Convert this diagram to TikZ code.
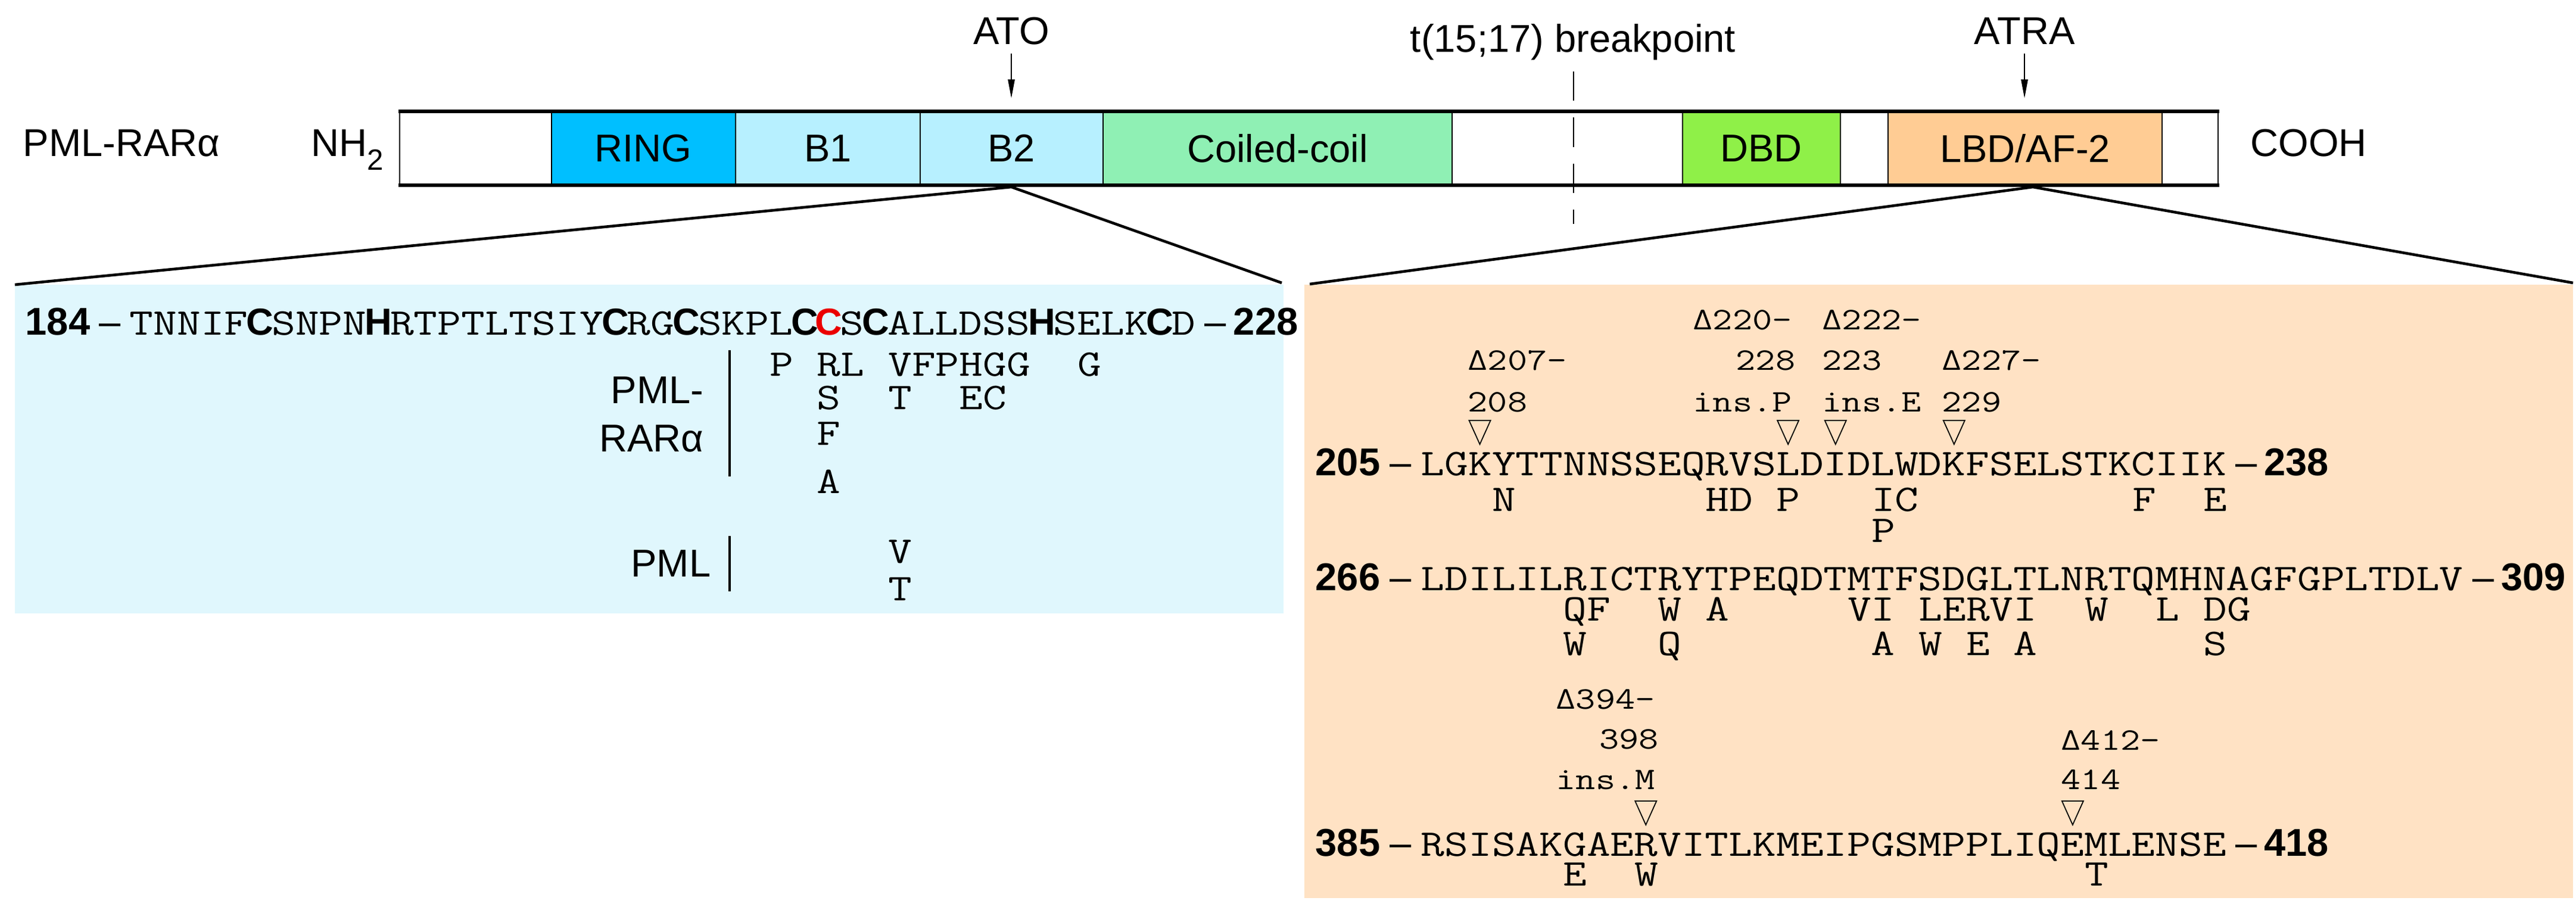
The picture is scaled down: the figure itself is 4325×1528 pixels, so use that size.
\documentclass[tikz,border=0pt]{standalone}
\usepackage{fontspec}
\setmainfont{Liberation Sans}
\newfontfamily\monof{Latin Modern Mono}[FakeStretch=1.22]
\usetikzlibrary{arrows.meta,calc}
\definecolor{ringc}{RGB}{0,191,255}
\definecolor{bbc}{RGB}{183,240,255}
\definecolor{ccc}{RGB}{143,240,180}
\definecolor{dbdc}{RGB}{143,240,72}
\definecolor{lbdc}{RGB}{255,204,148}
\definecolor{bluep}{RGB}{224,247,253}
\definecolor{orap}{RGB}{255,226,196}
\definecolor{redc}{RGB}{235,0,0}
\newcommand\bC[1]{\makebox[\fontcharwd\font`X]{\rmfamily\bfseries #1}}
% #1 seq node, #2 length, #3 column, #4 dy, #5 text
\newcommand\mut[5]{\node[mono,anchor=base west] at ($(#1.base west)!{#3/#2}!(#1.base east)+(0,#4)$) {#5};}
\newcommand\tri[4]{\coordinate (tc) at ($(#1.base west)!{(#3+0.5)/#2}!(#1.base east)+(0,#4)$);
  \draw[line width=0.5pt] ($(tc)+(-18,0)$) -- ($(tc)+(18,0)$) -- ($(tc)+(0,40)$) -- cycle;}
\newcommand\seqend[3]{\node[lab,anchor=base west] at ($(#1.base east)+(14,0)$) {–};
  \node[num,anchor=base west] (#2) at ($(#1.base east)+(62,0)$) {#3};}
\begin{document}
\begin{tikzpicture}[x=0.01cm,y=-0.01cm,
  lab/.style={inner sep=0pt,font=\fontsize{18.5pt}{20pt}\selectfont},
  num/.style={inner sep=0pt,font=\fontsize{18.5pt}{20pt}\selectfont\bfseries},
  mono/.style={inner sep=0pt,font=\fontsize{18pt}{20pt}\selectfont\monof},
  ann/.style={inner sep=0pt,anchor=base west,font=\fontsize{15pt}{17pt}\selectfont\monof},
  zoomline/.style={line width=1.3pt}]
\useasboundingbox (0,0) rectangle (4325,1528);
% panels
\fill[bluep] (25,478) rectangle (2155,1030);
\fill[orap] (2190,478) rectangle (4320,1508);
% bar
\fill[white] (671,187) rectangle (926,310);
\fill[ringc] (926,187) rectangle (1235,310);
\fill[bbc] (1235,187) rectangle (1852,310);
\fill[ccc] (1852,187) rectangle (2438,310);
\fill[dbdc] (2825,187) rectangle (3090,310);
\fill[lbdc] (3170,187) rectangle (3630,310);
\foreach \xx in {671,926,1235,1545,1852,2438,2825,3090,3170,3630,3724}
  \draw[line width=0.7pt] (\xx,187) -- (\xx,310);
\draw[line width=1.5pt] (669,187) -- (3726,187);
\draw[line width=1.5pt] (669,311) -- (3726,311);
\node[lab] (ring) at (1080,249) {RING};
\node[lab] (b1) at (1390,249) {B1};
\node[lab] (b2) at (1698,249) {B2};
\node[lab] (cc) at (2145,249) {Coiled-coil};
\node[lab] (dbd) at (2957,249) {DBD};
\node[lab] (lbd) at (3400,249) {LBD/AF-2};
\node[lab,anchor=base west] (name) at (38,263) {PML-RARα};
\node[lab,anchor=base west] (nh) at (522,263) {NH\raisebox{-0.35em}{\fontsize{14pt}{15pt}\selectfont 2}};
\node[lab,anchor=base west] (cooh) at (3778,263) {COOH};
% arrows
\node[lab,anchor=base] (ato) at (1698,75) {ATO};
\node[lab,anchor=base] (atra) at (3399,75) {ATRA};
\coordinate (atoE) at (1698,165);
\coordinate (atraE) at (3399,165);
\draw[line width=0.6pt,-{Triangle[width=3.2pt,length=9pt]}] (1698,90) -- (atoE);
\draw[line width=0.6pt,-{Triangle[width=3.2pt,length=9pt]}] (3399,90) -- (atraE);
\node[lab,anchor=base] (bp) at (2641,88) {t(15;17) breakpoint};
\coordinate (bpT) at (2642,120);
\coordinate (bpB) at (2642,376);
\draw[line width=0.7pt,dash pattern=on 14pt off 8pt] (bpT) -- (bpB);
% zoom lines
\coordinate (b2b) at (1698,314);
\coordinate (lbdb) at (3413,314);
\coordinate (bl1) at (25,478); \coordinate (bl2) at (2152,475);
\coordinate (or1) at (2199,477); \coordinate (or2) at (4320,475);
\draw[zoomline] (bl1) -- (b2b) -- (bl2);
\draw[zoomline] (or1) -- (lbdb) -- (or2);
% left panel
\node[num,anchor=base west] (n184) at (42,563) {184};
\node[lab,anchor=base west] at (166,563) {–};
\node[mono,anchor=base west] (seqL) at (217,563) {TNNIF\bC{C}SNPN\bC{H}RTPTLTSIY\bC{C}RG\bC{C}SKPL\bC{C}\textcolor{redc}{\bC{C}}S\bC{C}ALLDSS\bC{H}SELK\bC{C}D};
\seqend{seqL}{n228}{228}
\mut{seqL}{45}{27}{68}{P}\mut{seqL}{45}{29}{68}{RL}\mut{seqL}{45}{32}{68}{VFPHGG}\mut{seqL}{45}{40}{68}{G}
\mut{seqL}{45}{29}{125}{S}\mut{seqL}{45}{32}{125}{T}\mut{seqL}{45}{35}{125}{EC}
\mut{seqL}{45}{29}{184}{F}
\mut{seqL}{45}{29}{265}{A}
\mut{seqL}{45}{32}{382}{V}
\mut{seqL}{45}{32}{445}{T}
\node[lab,anchor=base east] (pml1) at (1182,677) {PML-};
\node[lab,anchor=base east] (pml2) at (1182,758) {RARα};
\node[lab,anchor=base east] (pml3) at (1194,968) {PML};
\draw[line width=0.9pt] (1225,588) -- (1225,800);
\draw[line width=0.9pt] (1225,900) -- (1225,993);
% right panel
\node[num,anchor=base west] (n205) at (2208,798) {205};
\node[lab,anchor=base west] at (2333,798) {–};
\node[mono,anchor=base west] (seqA) at (2385,798) {LGKYTTNNSSEQRVSLDIDLWDKFSELSTKCIIK};
\seqend{seqA}{n238}{238}
\node[ann] at (2464,621) {Δ207-};
\node[ann] at (2464,691) {208};
\node[ann] at (2842,554) {Δ220-};
\node[ann] at (2914,621) {228};
\node[ann] at (2842,691) {ins.P};
\node[ann] at (3059,554) {Δ222-};
\node[ann] at (3059,621) {223};
\node[ann] at (3059,691) {ins.E};
\node[ann] at (3260,621) {Δ227-};
\node[ann] at (3260,691) {229};
\tri{seqA}{34}{2}{-92}\tri{seqA}{34}{15}{-92}\tri{seqA}{34}{17}{-92}\tri{seqA}{34}{22}{-92}
\mut{seqA}{34}{3}{60}{N}\mut{seqA}{34}{12}{60}{HD}\mut{seqA}{34}{15}{60}{P}\mut{seqA}{34}{19}{60}{IC}\mut{seqA}{34}{30}{60}{F}\mut{seqA}{34}{33}{60}{E}
\mut{seqA}{34}{19}{112}{P}
\node[num,anchor=base west] (n266) at (2208,991) {266};
\node[lab,anchor=base west] at (2333,991) {–};
\node[mono,anchor=base west] (seqB) at (2385,991) {LDILILRICTRYTPEQDTMTFSDGLTLNRTQMHNAGFGPLTDLV};
\seqend{seqB}{n309}{309}
\mut{seqB}{44}{6}{51}{QF}\mut{seqB}{44}{10}{51}{W}\mut{seqB}{44}{12}{51}{A}\mut{seqB}{44}{18}{51}{VI}\mut{seqB}{44}{21}{51}{LERVI}\mut{seqB}{44}{28}{51}{W}\mut{seqB}{44}{31}{51}{L}\mut{seqB}{44}{33}{51}{DG}
\mut{seqB}{44}{6}{109}{W}\mut{seqB}{44}{10}{109}{Q}\mut{seqB}{44}{19}{109}{A}\mut{seqB}{44}{21}{109}{W}\mut{seqB}{44}{23}{109}{E}\mut{seqB}{44}{25}{109}{A}\mut{seqB}{44}{33}{109}{S}
\node[ann] at (2612,1190) {Δ394-};
\node[ann] at (2685,1257) {398};
\node[ann] at (2612,1325) {ins.M};
\node[ann] at (3460,1259) {Δ412-};
\node[ann] at (3460,1325) {414};
\node[num,anchor=base west] (n385) at (2208,1437) {385};
\node[lab,anchor=base west] at (2333,1437) {–};
\node[mono,anchor=base west] (seqC) at (2385,1437) {RSISAKGAERVITLKMEIPGSMPPLIQEMLENSE};
\seqend{seqC}{n418}{418}
\tri{seqC}{34}{9}{-92}\tri{seqC}{34}{27}{-92}
\mut{seqC}{34}{6}{50}{E}\mut{seqC}{34}{9}{50}{W}\mut{seqC}{34}{28}{50}{T}
\end{tikzpicture}
\end{document}
